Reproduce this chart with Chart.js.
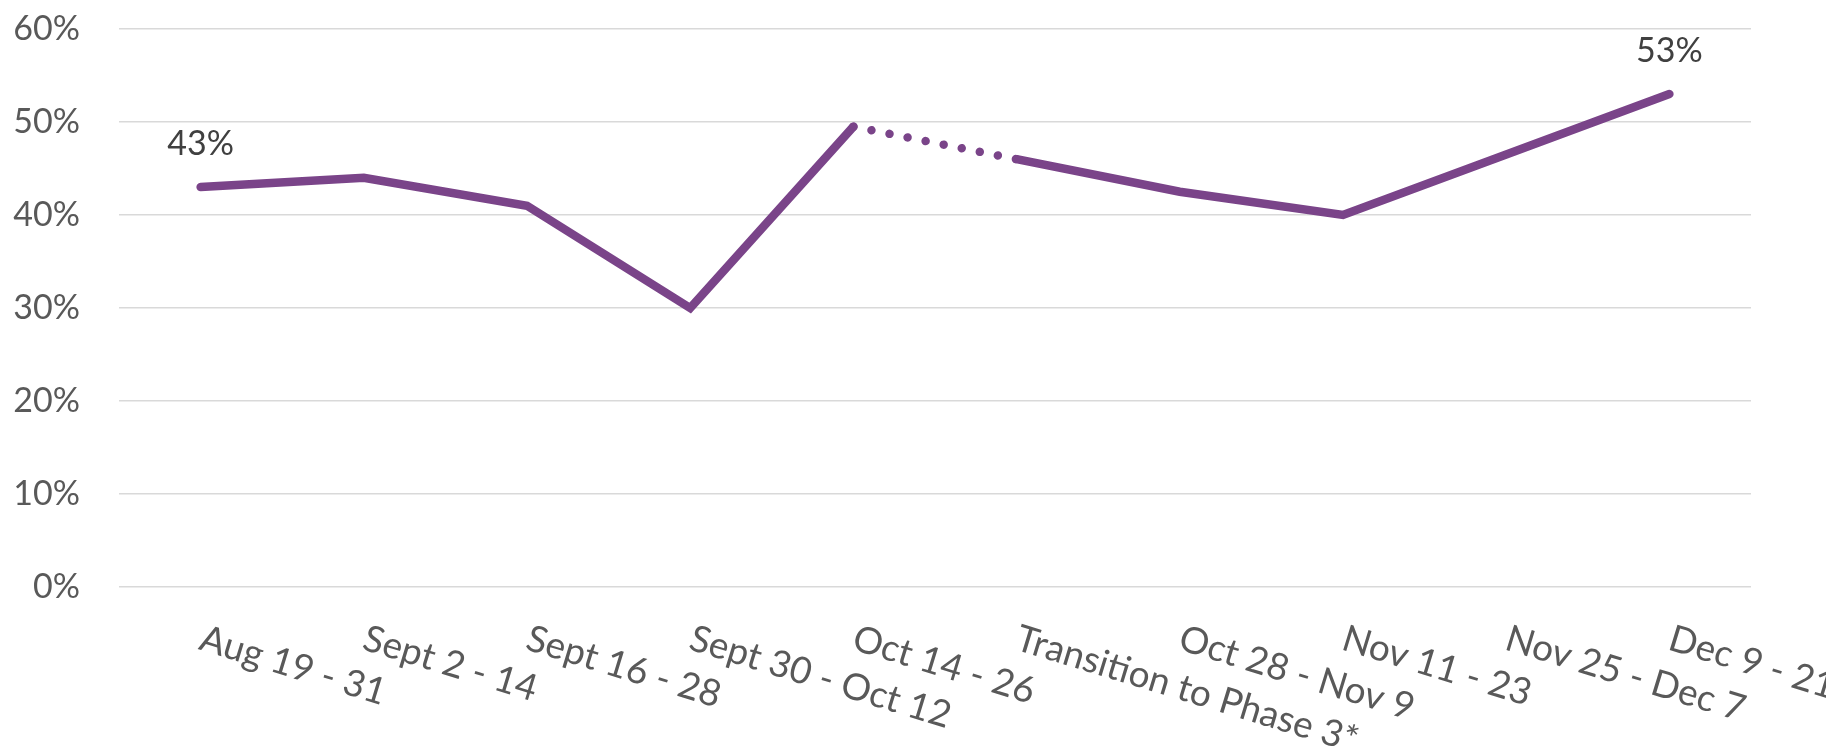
<!DOCTYPE html>
<html>
<head>
<meta charset="utf-8">
<script src="https://cdn.jsdelivr.net/npm/chart.js@4.4.1/dist/chart.umd.min.js"></script>
<style>
  html, body { margin: 0; padding: 0; background: #fff; }
  #wrap { width: 1826px; height: 748px; position: relative; }
</style>
</head>
<body>
<div id="wrap"><canvas id="trendChart"></canvas></div>
<script>
const categories = ['Aug 19 - 31', 'Sept 2 - 14', 'Sept 16 - 28', 'Sept 30 - Oct 12', 'Oct 14 - 26',
    'Transition to Phase 3*', 'Oct 28 - Nov 9', 'Nov 11 - 23', 'Nov 25 - Dec 7', 'Dec 9 - 21'];
const shareValues = [43, 44, 41, 30, 49.5, 46, 42.5, 40, 46.5, 53];
const labeledPoints = [0, 9];
const dottedFrom = 4;   // segment Oct 14-26 -> Transition is dotted
const yTicks = [0, 10, 20, 30, 40, 50, 60];

const purple = '#7a4489';
const axisGrey = '#595959';

const rotatedXLabels = {
    id: 'rotatedXLabels',
    afterDraw(chart) {
        const scale = chart.scales.x;
        const ctx = chart.ctx;
        ctx.save();
        ctx.font = '37px Lato';
        ctx.fillStyle = axisGrey;
        ctx.textAlign = 'left';
        ctx.textBaseline = 'alphabetic';
        categories.forEach((label, i) => {
            const x = scale.getPixelForTick(i);
            ctx.save();
            ctx.translate(x - 3, chart.chartArea.bottom + 62);
            ctx.rotate(17 * Math.PI / 180);
            ctx.fillText(label, 0, 0);
            ctx.restore();
        });
        ctx.restore();
    }
};

const pointLabels = {
    id: 'pointLabels',
    afterDatasetsDraw(chart) {
        const meta = chart.getDatasetMeta(0);
        const ctx = chart.ctx;
        ctx.save();
        ctx.font = '34px Lato';
        ctx.fillStyle = '#404040';
        ctx.textAlign = 'center';
        ctx.textBaseline = 'middle';
        labeledPoints.forEach(i => {
            const pt = meta.data[i];
            ctx.fillText(Math.round(shareValues[i]) + '%', pt.x, pt.y - 43);
        });
        ctx.restore();
    }
};

new Chart(document.getElementById('trendChart'), {
    type: 'line',
    data: {
        labels: categories,
        datasets: [{
            data: shareValues,
            borderColor: purple,
            borderWidth: 8.5,
            borderCapStyle: 'round',
            borderJoinStyle: 'miter',
            pointRadius: 0,
            tension: 0,
            fill: false,
            segment: {
                borderDash: ctx => ctx.p0DataIndex === dottedFrom ? [0.01, 18.4] : undefined
            }
        }]
    },
    options: {
        responsive: true,
        maintainAspectRatio: false,
        animation: false,
        layout: { padding: { top: 0, right: 75, left: 0, bottom: 0 } },
        plugins: {
            legend: { display: false },
            tooltip: { enabled: false }
        },
        scales: {
            x: {
                type: 'category',
                offset: true,
                grid: { display: false },
                border: { display: false },
                ticks: { display: false },
                afterFit: s => { s.height = 161; }
            },
            y: {
                min: 0,
                max: 60,
                afterBuildTicks: s => { s.ticks = yTicks.map(v => ({ value: v })); },
                grid: { color: '#d9d9d9', lineWidth: 1.6, drawTicks: false },
                border: { display: false },
                ticks: {
                    padding: 39,
                    color: axisGrey,
                    font: { family: 'Lato', size: 34 },
                    callback: v => v + '%'
                },
                afterFit: s => {
                    s.width = 119;
                    s.paddingTop = 29;
                    s.paddingBottom = 20;
                }
            }
        }
    },
    plugins: [rotatedXLabels, pointLabels]
});
</script>
</body>
</html>
